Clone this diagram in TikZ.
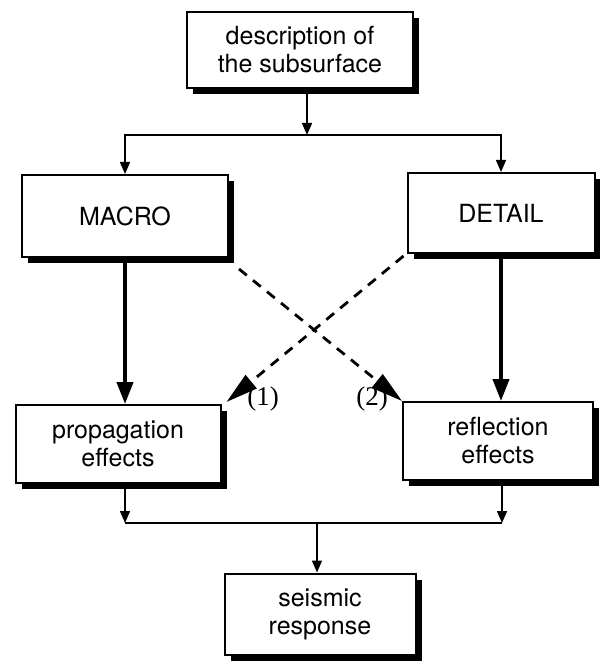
\documentclass[tikz,border=0pt]{standalone}
\usepackage{fontspec}
\setmainfont{TeX Gyre Heros}
\newfontfamily\labelfont{Liberation Serif}
\usetikzlibrary{arrows.meta,shadows}

\begin{document}
\begin{tikzpicture}[x=1pt, y=-1pt,
  every node/.style={font=\fontsize{25}{28}\selectfont, align=center},
  stagebox/.style={draw, line width=2pt, fill=white, inner sep=0pt,
    drop shadow={shadow xshift=6pt, shadow yshift=-6pt, fill=black, opacity=1}},
  thinflow/.style={line width=1.5pt, -{Triangle[length=12pt, width=10pt]}},
  thickflow/.style={line width=4pt, -{Triangle[length=22pt, width=16pt]}},
  crossflow/.style={line width=2.8pt, dash pattern=on 10pt off 8pt,
    -{Triangle[length=32pt, width=17pt]}},
  tagnode/.style={font=\labelfont\fontsize{27}{29}\selectfont}]

\useasboundingbox (0,0) rectangle (599,671);

%% ── Boxes ───────────────────────────────────────────────────────────────────
\node[stagebox, minimum width=226pt, minimum height=76pt] (desc) at (300,50)
  {description of\\the subsurface};
\node[stagebox, minimum width=206pt, minimum height=82pt] (macro) at (125,216)
  {MACRO};
\node[stagebox, minimum width=187pt, minimum height=80pt] (detail) at (501,213)
  {DETAIL};
\node[stagebox, minimum width=205pt, minimum height=78pt] (prop) at (118,444)
  {propagation\\effects};
\node[stagebox, minimum width=190pt, minimum height=78pt] (refl) at (498,441)
  {reflection\\effects};
\node[stagebox, minimum width=191pt, minimum height=81pt] (seis) at (320,614)
  {seismic\\response};

%% ── Split into MACRO / DETAIL ───────────────────────────────────────────────
\coordinate (split) at (307,135);
\draw[thinflow] (desc.south -| split) -- (split);
\draw[thinflow] (split) -| (macro.north);
\draw[thinflow] (split) -| (detail.north);

%% ── Main paths ──────────────────────────────────────────────────────────────
\draw[thickflow] (macro.south) -- (macro.south |- prop.north);
\draw[thickflow] (detail.south) -- (detail.south |- refl.north);

%% ── Cross paths ─────────────────────────────────────────────────────────────
\draw[crossflow] ([shift={(10,11)}]macro.south east) -- (refl.north west);
\draw[crossflow] ([shift={(-3,2)}]detail.south west) -- ([shift={(5,-2)}]prop.north east);
\node[tagnode] (tag1) at (263,399) {(1)};
\node[tagnode] (tag2) at (372,399) {(2)};

%% ── Join into seismic response ──────────────────────────────────────────────
\coordinate (join) at (317,523);
\draw[thinflow] ([xshift=7pt]prop.south) -- ([xshift=7pt]prop.south |- join);
\draw[thinflow] ([xshift=4pt]refl.south) -- ([xshift=4pt]refl.south |- join);
\draw[line width=1.5pt] ([xshift=7pt]prop.south |- join) -- ([xshift=4pt]refl.south |- join);
\draw[thinflow] (join) -- (join |- seis.north);

\end{tikzpicture}
\end{document}
